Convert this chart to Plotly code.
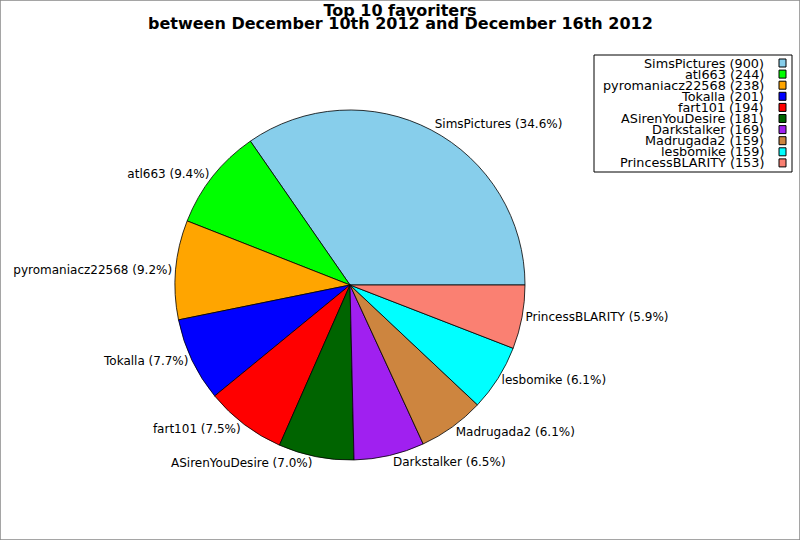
import plotly.graph_objects as go

names = ['SimsPictures', 'atl663', 'pyromaniacz22568', 'Tokalla', 'fart101',
         'ASirenYouDesire', 'Darkstalker', 'Madrugada2', 'lesbomike', 'PrincessBLARITY']
counts = [900, 244, 238, 201, 194, 181, 169, 159, 159, 153]
colors = ['#87CEEB', '#00FF00', '#FFA500', '#0000FF', '#FF0000',
          '#006400', '#A020F0', '#CD853F', '#00FFFF', '#FA8072']
title_lines = ['Top 10 favoriters', 'between December 10th 2012 and December 16th 2012']

W, H = 800, 540
total = sum(counts)
# plotly's counterclockwise mode puts the first slice clockwise of `rotation`,
# so shift it back to start at 3 o'clock like the original
rot = 90 - 360 * counts[0] / total

fig = go.Figure()
fig.add_trace(go.Pie(
    labels=names, values=counts,
    sort=False, direction='counterclockwise', rotation=rot,
    marker=dict(colors=colors, line=dict(color='black', width=0.8)),
    textposition='outside', texttemplate='%{label} (%{percent:.1%})',
    textfont=dict(size=12, color='black', family='DejaVu Sans'),
    hoverinfo='label+value+percent', showlegend=False,
    domain=dict(x=[175 / W, 525 / W], y=[1 - 460 / H, 1 - 110 / H]),
    automargin=False,
))

# figure frame
fig.add_shape(type='rect', xref='paper', yref='paper', x0=0, x1=1, y0=0, y1=1,
              line=dict(color='#888888', width=1.5))

# legend box: text right aligned, colour square on the right
lg_top, lg_step = 63, 11.1
fig.add_shape(type='rect', xref='paper', yref='paper',
              x0=594 / W, x1=792 / W, y0=1 - 172 / H, y1=1 - 55 / H,
              line=dict(color='black', width=1), fillcolor='white')
for i, (n, c, col) in enumerate(zip(names, counts, colors)):
    yc = lg_top + i * lg_step
    fig.add_annotation(x=766 / W, y=1 - yc / H, xref='paper', yref='paper',
                       xanchor='right', yanchor='middle', showarrow=False,
                       text=f'{n} ({c})', font=dict(size=12.8, color='black'))
    fig.add_shape(type='rect', xref='paper', yref='paper',
                  x0=779 / W, x1=786 / W, y0=1 - (yc + 4) / H, y1=1 - (yc - 4) / H,
                  line=dict(color='black', width=1), fillcolor=col)

# second title line kept tight under the first one, like the original
fig.add_annotation(x=0.5, y=1 - 24 / H, xref='paper', yref='paper',
                   xanchor='center', yanchor='middle', showarrow=False,
                   text=f'<b>{title_lines[1]}</b>', font=dict(size=16, color='black'))

fig.update_layout(
    width=W, height=H,
    margin=dict(l=0, r=0, t=0, b=0),
    paper_bgcolor='white', plot_bgcolor='white',
    font=dict(family='DejaVu Sans', size=12, color='black'),
    title=dict(text=f'<b>{title_lines[0]}</b>',
               x=0.5, xanchor='center', y=1 - 10 / H, yanchor='middle',
               font=dict(size=16, family='DejaVu Sans')),
)

fig.write_html('out.html', config={'displayModeBar': False},
               post_script="document.body.style.margin='0';")
